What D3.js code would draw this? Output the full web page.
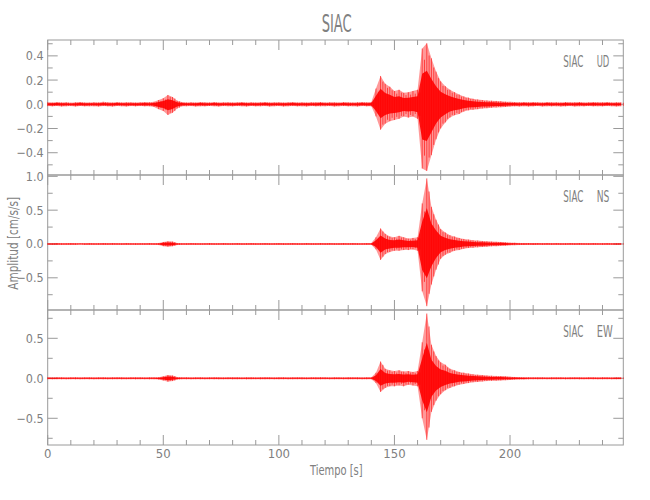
<!DOCTYPE html>
<html><head><meta charset="utf-8">
<script src="https://cdn.jsdelivr.net/npm/d3@7"></script>
<style>body{margin:0;background:#fff}svg{display:block}</style>
</head><body><svg id="c" width="650" height="500"></svg>
<script>
// ---------------- data ----------------
const title = "SIAC";
const station = "SIAC";
const components = ["UD", "NS", "EW"];
const xLabel = "Tiempo  [s]";
const yLabel = "Amplitud  [cm/s/s]";
const binSeconds = 2;               // each envelope value spans 2 s
const xDomain = [0, 249];
const xMajorTicks = [0, 50, 100, 150, 200];
const xMinorTicks = d3.range(0, 250, 10);
const yDomainUD = [-0.584, 0.531];
const yDomainNS = [-0.976, 1.02];
const yDomainEW = [-0.834, 0.854];
const yMajorUD = [-0.4, -0.2, 0, 0.2, 0.4];
const yMajorNS = [-0.5, 0, 0.5, 1.0];
const yMajorEW = [-0.5, 0, 0.5];
const yMinorUD = [-0.5, -0.3, -0.1, 0.1, 0.3, 0.5];
const yMinorNS = [-0.75, -0.25, 0.25, 0.75];
const yMinorEW = [-0.75, -0.25, 0.25, 0.75];

// envelope maxima / minima per 2 s bin (read from the record)
const udHi = [
 0.016,0.014,0.018,0.015,0.017,0.013,0.016,0.019,0.015,0.014,
 0.017,0.015,0.020,0.016,0.014,0.018,0.015,0.017,0.016,0.014,
 0.016,0.018,0.017,0.020,0.035,0.050,0.077,0.060,0.030,0.018,
 0.015,0.017,0.014,0.018,0.016,0.015,0.019,0.014,0.016,0.017,
 0.015,0.016,0.018,0.014,0.017,0.015,0.016,0.019,0.015,0.016,
 0.017,0.014,0.016,0.018,0.015,0.016,0.014,0.017,0.016,0.018,
 0.015,0.017,0.016,0.014,0.018,0.016,0.015,0.017,0.019,0.016,
 0.018,0.130,0.234,0.170,0.145,0.110,0.120,0.095,0.100,0.110,
 0.120,0.460,0.504,0.380,0.270,0.190,0.150,0.120,0.100,0.080,
 0.065,0.055,0.045,0.040,0.035,0.032,0.030,0.028,0.025,0.022,
 0.020,0.018,0.017,0.019,0.016,0.018,0.017,0.015,0.018,0.016,
 0.017,0.015,0.018,0.016,0.017,0.019,0.015,0.016,0.018,0.017,
 0.016,0.018,0.015,0.017,0.016];
const udLo = [
 -0.015,-0.017,-0.014,-0.018,-0.016,-0.015,-0.018,-0.014,-0.017,-0.016,
 -0.016,-0.018,-0.015,-0.017,-0.019,-0.014,-0.016,-0.018,-0.015,-0.017,
 -0.015,-0.017,-0.016,-0.022,-0.040,-0.055,-0.088,-0.070,-0.035,-0.017,
 -0.016,-0.015,-0.018,-0.016,-0.017,-0.014,-0.016,-0.018,-0.015,-0.016,
 -0.017,-0.015,-0.016,-0.018,-0.014,-0.017,-0.016,-0.015,-0.018,-0.016,
 -0.015,-0.018,-0.016,-0.015,-0.017,-0.016,-0.018,-0.015,-0.017,-0.016,
 -0.016,-0.015,-0.018,-0.016,-0.015,-0.017,-0.016,-0.018,-0.015,-0.017,
 -0.017,-0.100,-0.210,-0.160,-0.140,-0.130,-0.120,-0.100,-0.110,-0.100,
 -0.120,-0.530,-0.550,-0.420,-0.290,-0.200,-0.150,-0.110,-0.090,-0.080,
 -0.060,-0.050,-0.045,-0.040,-0.035,-0.032,-0.028,-0.026,-0.024,-0.022,
 -0.019,-0.017,-0.018,-0.016,-0.018,-0.017,-0.015,-0.018,-0.016,-0.017,
 -0.016,-0.018,-0.017,-0.015,-0.018,-0.016,-0.017,-0.015,-0.017,-0.016,
 -0.017,-0.015,-0.016,-0.018,-0.016];
const nsHi = [
 0.012,0.010,0.013,0.011,0.012,0.014,0.011,0.012,0.010,0.013,
 0.011,0.012,0.014,0.011,0.013,0.012,0.010,0.013,0.012,0.011,
 0.012,0.011,0.013,0.012,0.015,0.030,0.040,0.035,0.015,0.012,
 0.011,0.013,0.012,0.010,0.012,0.014,0.011,0.012,0.013,0.011,
 0.012,0.013,0.011,0.012,0.014,0.011,0.012,0.013,0.011,0.012,
 0.013,0.011,0.012,0.014,0.012,0.011,0.013,0.012,0.011,0.013,
 0.012,0.013,0.011,0.012,0.013,0.012,0.014,0.011,0.012,0.013,
 0.013,0.100,0.230,0.150,0.110,0.100,0.120,0.100,0.080,0.090,
 0.100,0.600,0.970,0.550,0.360,0.220,0.170,0.130,0.110,0.090,
 0.075,0.065,0.055,0.050,0.045,0.040,0.035,0.032,0.030,0.025,
 0.020,0.018,0.016,0.015,0.014,0.013,0.014,0.012,0.013,0.012,
 0.013,0.012,0.011,0.013,0.012,0.014,0.012,0.011,0.013,0.012,
 0.012,0.013,0.011,0.012,0.013];
const nsLo = [
 -0.011,-0.013,-0.012,-0.012,-0.011,-0.013,-0.012,-0.010,-0.013,-0.012,
 -0.012,-0.011,-0.013,-0.012,-0.012,-0.011,-0.013,-0.012,-0.011,-0.013,
 -0.011,-0.012,-0.012,-0.013,-0.016,-0.032,-0.040,-0.033,-0.016,-0.012,
 -0.012,-0.011,-0.013,-0.012,-0.011,-0.013,-0.012,-0.011,-0.012,-0.013,
 -0.011,-0.012,-0.013,-0.011,-0.012,-0.013,-0.011,-0.012,-0.013,-0.011,
 -0.012,-0.013,-0.011,-0.012,-0.013,-0.012,-0.011,-0.013,-0.012,-0.011,
 -0.013,-0.011,-0.012,-0.013,-0.012,-0.011,-0.013,-0.012,-0.011,-0.012,
 -0.012,-0.080,-0.235,-0.150,-0.120,-0.100,-0.100,-0.090,-0.090,-0.080,
 -0.100,-0.700,-0.920,-0.600,-0.380,-0.220,-0.160,-0.130,-0.100,-0.090,
 -0.070,-0.060,-0.055,-0.050,-0.045,-0.040,-0.035,-0.032,-0.028,-0.025,
 -0.020,-0.017,-0.016,-0.015,-0.013,-0.014,-0.012,-0.013,-0.012,-0.013,
 -0.012,-0.013,-0.012,-0.011,-0.013,-0.012,-0.011,-0.013,-0.012,-0.011,
 -0.013,-0.012,-0.011,-0.013,-0.012];
const ewHi = [
 0.012,0.011,0.013,0.012,0.010,0.012,0.013,0.011,0.012,0.013,
 0.011,0.012,0.013,0.011,0.012,0.014,0.012,0.011,0.013,0.012,
 0.012,0.011,0.013,0.012,0.014,0.025,0.040,0.035,0.015,0.012,
 0.013,0.011,0.012,0.013,0.011,0.012,0.014,0.012,0.011,0.012,
 0.012,0.013,0.011,0.012,0.013,0.011,0.012,0.014,0.012,0.011,
 0.013,0.012,0.011,0.012,0.013,0.012,0.011,0.013,0.012,0.014,
 0.012,0.011,0.013,0.012,0.011,0.013,0.012,0.012,0.011,0.013,
 0.012,0.070,0.210,0.120,0.100,0.090,0.100,0.085,0.090,0.080,
 0.090,0.450,0.810,0.420,0.280,0.200,0.170,0.120,0.100,0.080,
 0.070,0.060,0.050,0.045,0.040,0.035,0.032,0.030,0.028,0.025,
 0.020,0.017,0.015,0.014,0.013,0.012,0.013,0.012,0.011,0.013,
 0.012,0.013,0.011,0.012,0.013,0.012,0.011,0.013,0.012,0.011,
 0.013,0.012,0.011,0.012,0.013];
const ewLo = [
 -0.012,-0.013,-0.011,-0.012,-0.013,-0.011,-0.012,-0.013,-0.011,-0.012,
 -0.013,-0.011,-0.012,-0.013,-0.012,-0.011,-0.013,-0.012,-0.011,-0.013,
 -0.011,-0.012,-0.013,-0.012,-0.016,-0.028,-0.042,-0.035,-0.016,-0.012,
 -0.012,-0.013,-0.011,-0.012,-0.013,-0.011,-0.012,-0.013,-0.012,-0.011,
 -0.013,-0.012,-0.011,-0.013,-0.012,-0.011,-0.013,-0.012,-0.011,-0.012,
 -0.012,-0.011,-0.013,-0.012,-0.011,-0.013,-0.012,-0.011,-0.013,-0.012,
 -0.011,-0.013,-0.012,-0.011,-0.012,-0.013,-0.011,-0.012,-0.013,-0.012,
 -0.012,-0.060,-0.170,-0.120,-0.100,-0.100,-0.090,-0.100,-0.080,-0.090,
 -0.100,-0.500,-0.770,-0.420,-0.280,-0.200,-0.150,-0.120,-0.100,-0.080,
 -0.070,-0.060,-0.050,-0.045,-0.040,-0.035,-0.032,-0.030,-0.027,-0.024,
 -0.020,-0.017,-0.015,-0.014,-0.013,-0.012,-0.013,-0.011,-0.012,-0.013,
 -0.012,-0.011,-0.013,-0.012,-0.011,-0.013,-0.012,-0.011,-0.012,-0.013,
 -0.012,-0.011,-0.013,-0.012,-0.011];

// ---------------- drawing ----------------
const left = 47.7, right = 623.3;
const panelTop = [40, 175, 310], panelH = 135;
const axisColor = "#9a9a9a", textColor = "#808080", waveColor = "#ff0000";
const font = "'Liberation Sans Narrow','DejaVu Sans Condensed','Arial Narrow',sans-serif";
const coreFrac = 0.55;   // visual: dense core band drawn inside the envelope

const panels = [
  {comp: components[0], dom: yDomainUD, major: yMajorUD, minor: yMinorUD, hi: udHi, lo: udLo, compLen: 12.6},
  {comp: components[1], dom: yDomainNS, major: yMajorNS, minor: yMinorNS, hi: nsHi, lo: nsLo, compLen: 12.6},
  {comp: components[2], dom: yDomainEW, major: yMajorEW, minor: yMinorEW, hi: ewHi, lo: ewLo, compLen: 16}
];

const svg = d3.select("#c");
const x = d3.scaleLinear().domain(xDomain).range([left, right]);
const fmt = d3.format(".1f");

svg.append("text").attr("x", 336.7).attr("y", 31.5).attr("text-anchor", "middle")
  .attr("font-family", font).attr("font-size", 24).attr("fill", textColor)
  .attr("textLength", 30).attr("lengthAdjust", "spacingAndGlyphs").text(title);

panels.forEach((p, k) => {
  const top = panelTop[k], bot = top + panelH;
  const y = d3.scaleLinear().domain(p.dom).range([bot, top]);
  const g = svg.append("g");

  g.append("rect").attr("x", left).attr("y", top).attr("width", right - left).attr("height", panelH)
    .attr("fill", "none").attr("stroke", axisColor).attr("stroke-width", 1);

  xMinorTicks.forEach(t => {
    const len = xMajorTicks.includes(t) ? 10 : 5;
    const xx = x(t);
    g.append("line").attr("x1", xx).attr("x2", xx).attr("y1", bot).attr("y2", bot - len).attr("stroke", axisColor);
    g.append("line").attr("x1", xx).attr("x2", xx).attr("y1", top).attr("y2", top + len).attr("stroke", axisColor);
  });
  const yt = p.major.map(v => ({v, len: 10})).concat(p.minor.map(v => ({v, len: 5})));
  yt.forEach(d => {
    const yy = y(d.v);
    g.append("line").attr("x1", left).attr("x2", left + d.len).attr("y1", yy).attr("y2", yy).attr("stroke", axisColor);
    g.append("line").attr("x1", right).attr("x2", right - d.len).attr("y1", yy).attr("y2", yy).attr("stroke", axisColor);
  });
  p.major.forEach(v => {
    g.append("text").attr("x", left - 4).attr("y", y(v)).attr("dy", "0.36em")
      .attr("text-anchor", "end").attr("font-family", font).attr("font-size", 12.5)
      .attr("fill", textColor).text(fmt(v));
  });
  g.append("text").attr("x", 563.3).attr("y", top + 26.5).attr("font-family", font).attr("font-size", 15)
    .attr("fill", textColor).attr("textLength", 20).attr("lengthAdjust", "spacingAndGlyphs").text(station);
  g.append("text").attr("x", 596.7).attr("y", top + 26.5).attr("font-family", font).attr("font-size", 15)
    .attr("fill", textColor).attr("textLength", p.compLen).attr("lengthAdjust", "spacingAndGlyphs").text(p.comp);

  // waveform envelope: light outer area, dense core, fine vertical strokes
  const bins = p.hi.map((h, i) => ({t: i * binSeconds, hi: h, lo: p.lo[i]}));
  const area = d3.area().x(d => x(d.t)).y0(d => y(d.lo)).y1(d => y(d.hi)).curve(d3.curveLinear);
  g.append("path").datum(bins).attr("d", area).attr("fill", waveColor).attr("fill-opacity", 0.4);
  const core = d3.area().x(d => x(d.t)).y0(d => y(d.lo * coreFrac)).y1(d => y(d.hi * coreFrac)).curve(d3.curveLinear);
  g.append("path").datum(bins).attr("d", core).attr("fill", waveColor).attr("fill-opacity", 0.9);
  g.selectAll("line.w").data(bins).join("line").attr("class", "w")
    .attr("x1", d => x(d.t)).attr("x2", d => x(d.t))
    .attr("y1", d => y(d.lo)).attr("y2", d => y(d.hi))
    .attr("stroke", waveColor).attr("stroke-width", 0.8).attr("stroke-opacity", 0.75);
  g.selectAll("line.w2").data(bins).join("line").attr("class", "w2")
    .attr("x1", d => x(d.t + binSeconds / 2)).attr("x2", d => x(d.t + binSeconds / 2))
    .attr("y1", d => y(d.lo * 0.8)).attr("y2", d => y(d.hi * 0.8))
    .attr("stroke", waveColor).attr("stroke-width", 0.8).attr("stroke-opacity", 0.75);
});

xMajorTicks.forEach(t => {
  svg.append("text").attr("x", x(t)).attr("y", 458).attr("text-anchor", "middle")
    .attr("font-family", font).attr("font-size", 13).attr("fill", textColor).text(t);
});
svg.append("text").attr("x", 336.3).attr("y", 475).attr("text-anchor", "middle")
  .attr("font-family", font).attr("font-size", 14).attr("fill", textColor)
  .attr("textLength", 52.7).attr("lengthAdjust", "spacingAndGlyphs").text(xLabel);
svg.append("text").attr("transform", "translate(18,243.3) rotate(-90)").attr("text-anchor", "middle")
  .attr("font-family", font).attr("font-size", 14).attr("fill", textColor)
  .attr("textLength", 93).attr("lengthAdjust", "spacingAndGlyphs").text(yLabel);
</script></body></html>
